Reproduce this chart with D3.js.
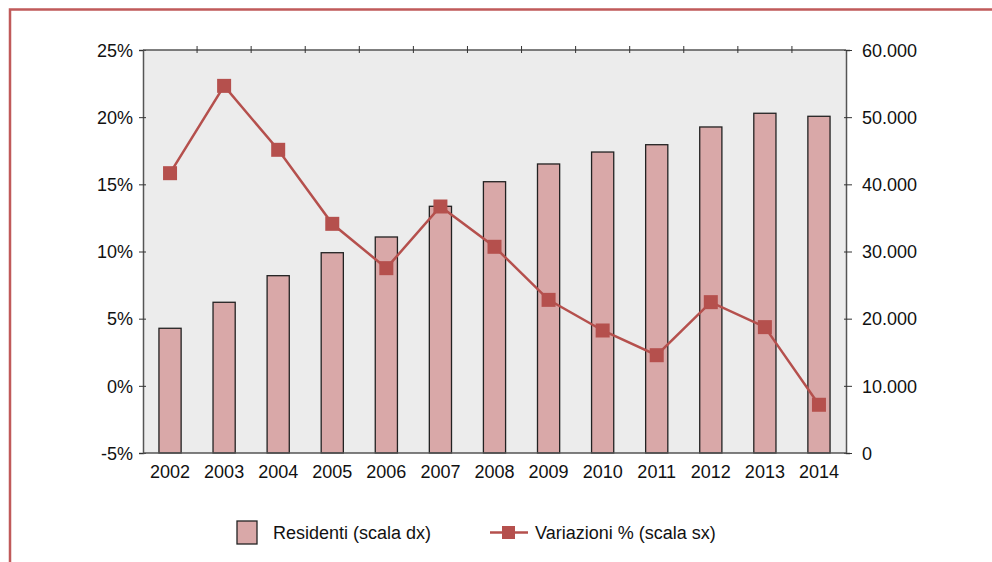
<!DOCTYPE html>
<html>
<head>
<meta charset="utf-8">
<script src="https://cdn.jsdelivr.net/npm/d3@7"></script>
<style>
  body { margin: 0; background: #fff; }
  svg { display: block; font-family: "Liberation Sans", Arial, sans-serif; }
</style>
</head>
<body>
<svg id="svg1" width="992" height="562"></svg>
<script>
// data
var years = ["2002","2003","2004","2005","2006","2007","2008","2009","2010","2011","2012","2013","2014"];
var residenti = [18570, 22440, 26400, 29820, 32160, 36730, 40390, 43030, 44810, 45900, 48540, 50580, 50130];
var variazioni = [15.83, 22.33, 17.57, 12.06, 8.76, 13.35, 10.35, 6.40, 4.12, 2.28, 6.23, 4.37, -1.41];
var leftTicks = [-5, 0, 5, 10, 15, 20, 25];
var rightTicks = [0, 10000, 20000, 30000, 40000, 50000, 60000];

var svg = d3.select('svg');

var plotLeft = 143, plotRight = 846, plotTop = 50, plotBottom = 453;
var fontSize = 18;

// red frame round the whole picture
svg.append('rect')
   .attr('x', 10).attr('y', 9.5)
   .attr('width', 1100).attr('height', 700)
   .attr('fill', 'none')
   .attr('stroke', '#c05a5a')
   .attr('stroke-width', 2.5);

var x = d3.scaleBand().domain(years).range([plotLeft, plotRight]).padding(0);
var yL = d3.scaleLinear().domain([-5, 25]).range([plotBottom, plotTop]);
var yR = d3.scaleLinear().domain([0, 60000]).range([plotBottom, plotTop]);

svg.append('rect')
   .attr('x', plotLeft).attr('y', plotTop)
   .attr('width', plotRight - plotLeft).attr('height', plotBottom - plotTop)
   .attr('fill', '#ececec');

// bars
var barW = x.bandwidth() * 0.41;
svg.selectAll('rect.bar')
   .data(residenti)
   .enter()
   .append('rect')
   .attr('class', 'bar')
   .attr('x', function(d, i) { return x(years[i]) + x.bandwidth() / 2 - barW / 2; })
   .attr('y', function(d) { return yR(d); })
   .attr('width', barW)
   .attr('height', function(d) { return plotBottom - yR(d); })
   .attr('fill', '#d9a8a8')
   .attr('stroke', '#222')
   .attr('stroke-width', 1.3);

// axes
var axisColor = '#555';
function styleAxis(g) {
  g.selectAll('path.domain').attr('stroke', axisColor).attr('stroke-width', 1.5);
  g.selectAll('.tick line').attr('stroke', '#333').attr('stroke-width', 1);
  g.selectAll('text').attr('font-size', fontSize).attr('fill', '#111')
   .attr('font-family', '"Liberation Sans", Arial, sans-serif');
}

var gL = svg.append('g').attr('transform', 'translate(' + plotLeft + ',0)')
  .call(d3.axisLeft(yL).tickValues(leftTicks).tickSize(4).tickPadding(6)
        .tickFormat(function(d) { return d + '%'; }));
gL.selectAll('.tick line').attr('x2', 3).attr('x1', -4);
styleAxis(gL);
gL.selectAll('text').attr('x', -10).attr('dy', '0.35em');

var itFmt = d3.formatLocale({ decimal: ',', thousands: '.', grouping: [3], currency: ['', '€'] }).format(',');
var gR = svg.append('g').attr('transform', 'translate(' + plotRight + ',0)')
  .call(d3.axisRight(yR).tickValues(rightTicks).tickSize(4).tickPadding(6)
        .tickFormat(function(d) { return itFmt(d); }));
gR.selectAll('.tick line').attr('x1', -2).attr('x2', 6);
styleAxis(gR);
gR.selectAll('text').attr('x', 16).attr('dy', '0.35em');

// top axis with ticks at category boundaries
var bounds = years.slice(1).map(function(d) { return x(d); });
svg.append('line').attr('x1', plotLeft).attr('x2', plotRight).attr('y1', plotTop).attr('y2', plotTop)
   .attr('stroke', axisColor).attr('stroke-width', 1.5);
svg.selectAll('line.topTick').data(bounds).enter().append('line')
   .attr('class', 'topTick')
   .attr('x1', function(d) { return d; }).attr('x2', function(d) { return d; })
   .attr('y1', plotTop - 4).attr('y2', plotTop + 3)
   .attr('stroke', '#333');

// bottom axis
var gB = svg.append('g').attr('transform', 'translate(0,' + plotBottom + ')')
  .call(d3.axisBottom(x).tickSize(0).tickPadding(11));
styleAxis(gB);
gB.select('path.domain').attr('d', 'M' + plotLeft + ',0H' + plotRight);
gB.selectAll('text').attr('dy', '0.8em');

// line
var lineColor = '#b5504d';
var line = d3.line()
  .x(function(d, i) { return x(years[i]) + x.bandwidth() / 2; })
  .y(function(d) { return yL(d); });

svg.append('path')
   .datum(variazioni)
   .attr('d', line)
   .attr('fill', 'none')
   .attr('stroke', lineColor)
   .attr('stroke-width', 2.5);

var ms = 14;
svg.selectAll('rect.marker')
   .data(variazioni)
   .enter()
   .append('rect')
   .attr('class', 'marker')
   .attr('x', function(d, i) { return x(years[i]) + x.bandwidth() / 2 - ms / 2; })
   .attr('y', function(d) { return yL(d) - ms / 2; })
   .attr('width', ms).attr('height', ms)
   .attr('fill', lineColor);

// legend
var lg = svg.append('g');
lg.append('rect').attr('x', 237).attr('y', 521).attr('width', 20).attr('height', 23)
  .attr('fill', '#d9a8a8').attr('stroke', '#222').attr('stroke-width', 1.3);
lg.append('text').attr('x', 273).attr('y', 539).attr('font-size', fontSize).attr('fill', '#111')
  .text('Residenti (scala dx)');
lg.append('line').attr('x1', 490).attr('x2', 528).attr('y1', 532.5).attr('y2', 532.5)
  .attr('stroke', lineColor).attr('stroke-width', 2.5);
lg.append('rect').attr('x', 502).attr('y', 526).attr('width', 13).attr('height', 13)
  .attr('fill', lineColor);
lg.append('text').attr('x', 535).attr('y', 539).attr('font-size', fontSize).attr('fill', '#111')
  .text('Variazioni % (scala sx)');
</script>
</body>
</html>
